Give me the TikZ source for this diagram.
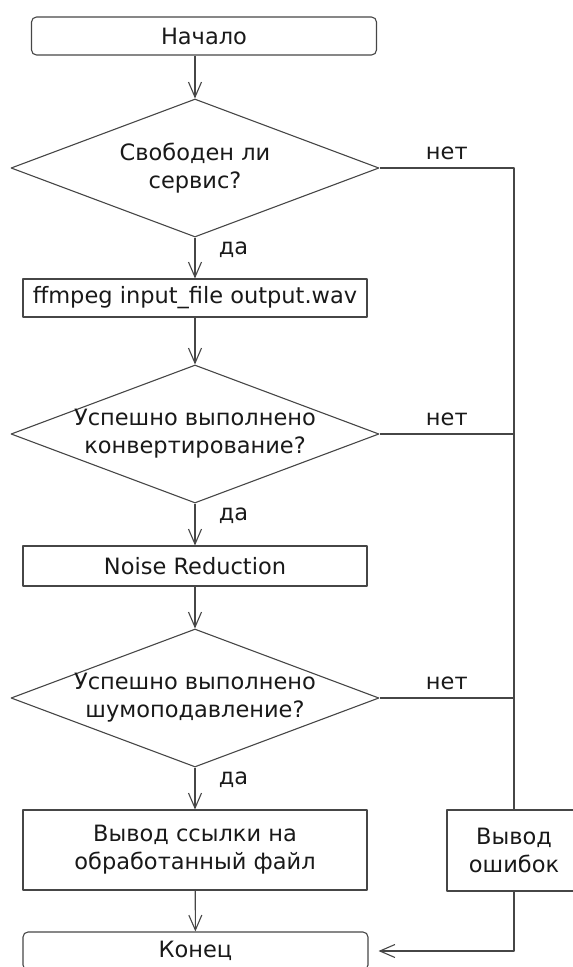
\documentclass[tikz,border=0pt]{standalone}
\usepackage{fontspec}
\setmainfont{DejaVu Sans}
\usetikzlibrary{shapes.geometric,arrows.meta}

\definecolor{linegray}{RGB}{70,70,70}
\definecolor{textgray}{RGB}{25,25,25}

\tikzset{
  every node/.style={font=\fontsize{22.5}{28}\selectfont, text=textgray},
  terminal/.style={rectangle, draw=linegray, line width=1.1pt, rounded corners=5pt,
    minimum width=345pt, minimum height=38pt},
  process/.style={rectangle, draw=linegray, line width=1.1pt, align=center,
    minimum width=344pt, minimum height=38pt},
  decision/.style={diamond, draw=linegray, line width=1.1pt, inner sep=0pt,
    minimum width=368pt, minimum height=138pt},
  flow/.style={draw=linegray, line width=1.1pt, -{Straight Barb[length=15pt,width=13pt]}},
  link/.style={draw=linegray, line width=1.1pt},
  yeslbl/.style={right=20pt, pos=0.3},
  nolbl/.style={midway, above=4pt}
}

\begin{document}
\begin{tikzpicture}[x=1pt, y=-1pt, line join=round]
  \useasboundingbox (0,0) rectangle (573,967);
  \clip (0,0) rectangle (573,967);
  % blocks
  \node[terminal] (start) at (204,36) {Начало};
  \node[decision, label={[align=center]center:Свободен ли\\сервис?}] (free) at (195,168) {};
  \node[process] (conv) at (195,298) {ffmpeg input\_file output.wav};
  \node[decision, label={[align=center]center:Успешно выполнено\\конвертирование?}] (convok) at (195,434) {};
  \node[process, minimum height=40pt] (noise) at (195,566) {Noise Reduction};
  \node[decision, label={[align=center]center:Успешно выполнено\\шумоподавление?}] (noiseok) at (195,698) {};
  \node[process, minimum height=80pt] (result) at (195,850) {Вывод ссылки на\\обработанный файл};
  \node[process, minimum width=134pt, minimum height=81pt] (errors) at (514,850.5) {Вывод\\ошибок};
  \node[terminal] (stop) at (195.5,951) {Конец};
  % main flow
  \draw[flow] (start.south -| free.north) -- (free.north);
  \draw[flow] (free) -- node[yeslbl] {да} (conv);
  \draw[flow] (conv) -- (convok);
  \draw[flow] (convok) -- node[yeslbl] {да} (noise);
  \draw[flow] (noise) -- (noiseok);
  \draw[flow] (noiseok) -- node[yeslbl] {да} (result);
  \draw[flow] (result) -- (stop);
  % error branch
  \draw[link] (free.east) -- node[nolbl] {нет} (free.east -| errors.north) -- (errors.north);
  \draw[link] (convok.east) -- node[nolbl] {нет} (convok.east -| errors.north);
  \draw[link] (noiseok.east) -- node[nolbl] {нет} (noiseok.east -| errors.north);
  \draw[flow, shorten >=10pt] (errors.south) |- (stop.east);
\end{tikzpicture}
\end{document}
